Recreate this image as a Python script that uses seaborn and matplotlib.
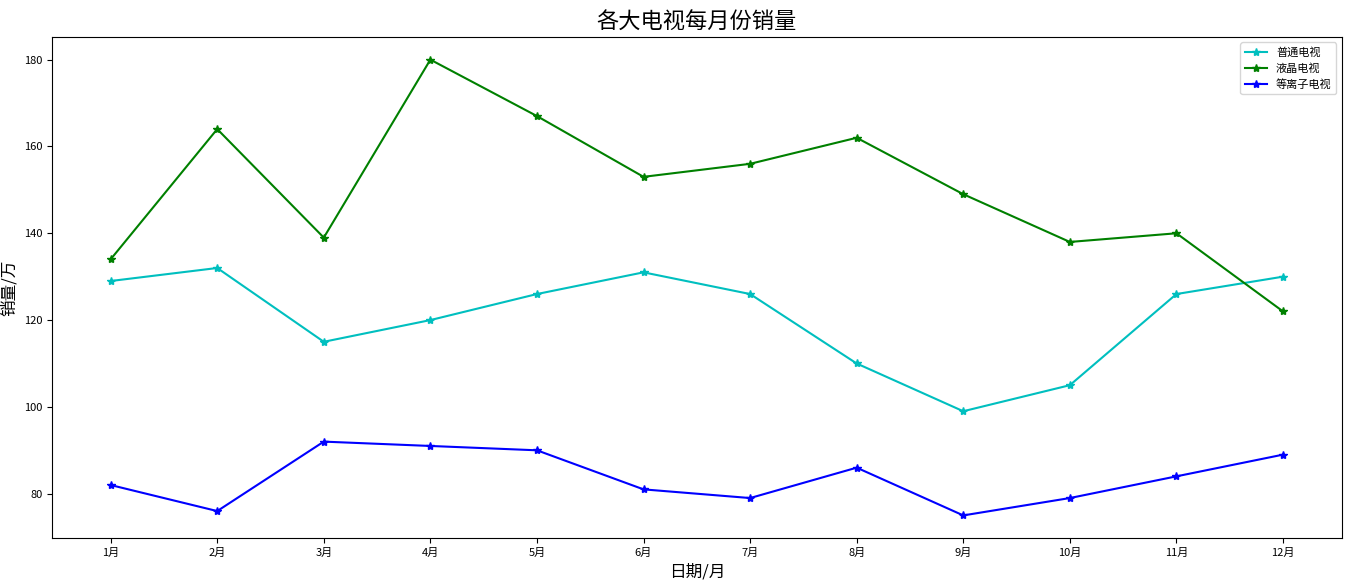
import matplotlib
matplotlib.use("Agg")
import matplotlib.pyplot as plt
import seaborn as sns
import pandas as pd

months = ["1月", "2月", "3月", "4月", "5月", "6月", "7月", "8月", "9月", "10月", "11月", "12月"]
normal_tv = [129, 132, 115, 120, 126, 131, 126, 110, 99, 105, 126, 130]
lcd_tv = [134, 164, 139, 180, 167, 153, 156, 162, 149, 138, 140, 122]
plasma_tv = [82, 76, 92, 91, 90, 81, 79, 86, 75, 79, 84, 89]

series = [("普通电视", normal_tv, "c"), ("液晶电视", lcd_tv, "g"), ("等离子电视", plasma_tv, "b")]

plt.rcParams['font.family'] = ['Noto Sans CJK SC', 'DejaVu Sans']
plt.rcParams['axes.unicode_minus'] = False

fig, ax = plt.subplots(figsize=(13.69, 5.85), dpi=100)
pos = list(range(len(months)))

for name, vals, col in series:
    df = pd.DataFrame({"x": pos, "y": vals})
    sns.lineplot(data=df, x="x", y="y", color=col, marker="*", markersize=6,
                 markeredgecolor=col, markeredgewidth=1, sort=False, label=name, ax=ax)

ax.set_xticks(pos)
ax.set_xticklabels(months, fontsize=8)
ax.tick_params(axis="y", labelsize=8)
ax.set_title("各大电视每月份销量", fontsize=16)
ax.set_xlabel("日期/月", fontsize=12)
ax.set_ylabel("销量/万", fontsize=12)
ax.legend(loc="upper right", fontsize=8)

plt.subplots_adjust(left=0.038, right=0.980, top=0.937, bottom=0.080)
plt.savefig("out.png", dpi=100)
plt.close()
